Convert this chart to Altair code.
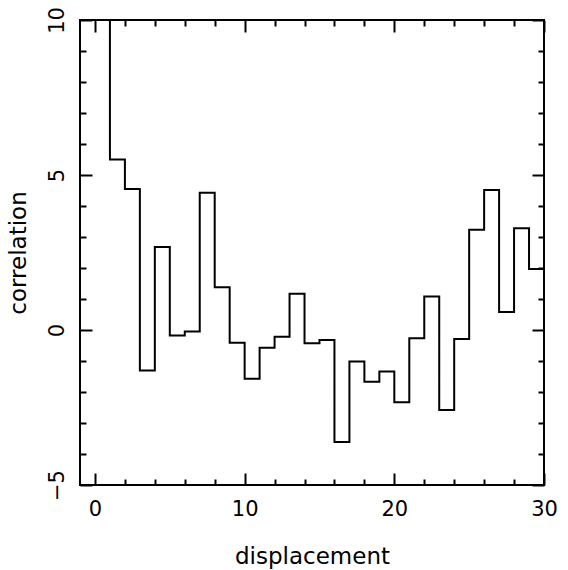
import altair as alt
import pandas as pd

# bin edges 0..30, one correlation value per unit bin (first bin is off-scale)
edges = list(range(0, 31))
values = [12.0, 5.5, 4.55, -1.31, 2.68, -0.18, -0.05, 4.43, 1.38, -0.41,
          -1.57, -0.57, -0.22, 1.17, -0.43, -0.32, -3.61, -1.02, -1.67, -1.34,
          -2.33, -0.27, 1.08, -2.58, -0.29, 3.23, 4.52, 0.58, 3.28, 1.97]

x_labels = [0, 10, 20, 30]
y_labels = [-5, 0, 5, 10]
x_ticks = list(range(0, 31, 2))
y_ticks = list(range(-5, 11, 1))

df = pd.DataFrame({"x": edges, "y": values + [values[-1]]})

W, H = 464, 465
FONT = "DejaVu Sans"

xscale = alt.Scale(domain=[-1, 30], nice=False, zero=False)
yscale = alt.Scale(domain=[-5, 10], nice=False, zero=False)

xtick_size = {"condition": {"test": "datum.value % 10 === 0", "value": 12}, "value": 6}
ytick_size = {"condition": {"test": "datum.value % 5 === 0", "value": 12}, "value": 6}

base = alt.Chart(df)

main = base.mark_line(interpolate="step-after", clip=True, color="black", strokeWidth=2).encode(
    x=alt.X("x:Q", scale=xscale, axis=alt.Axis(
        orient="bottom", values=x_labels, ticks=False, tickSize=0, domain=False, grid=False,
        labelFontSize=21, labelFont=FONT, labelPadding=13, labelFlush=False,
        labelOverlap=False, labelColor="black",
        title="displacement", titleFont=FONT, titleFontSize=23, titleFontWeight="normal",
        titlePadding=26, titleColor="black")),
    y=alt.Y("y:Q", scale=yscale, axis=alt.Axis(
        orient="left", values=y_labels, ticks=False, tickSize=0, domain=False, grid=False,
        labelFontSize=21, labelFont=FONT, labelAngle=-90, labelAlign="center",
        labelBaseline="alphabetic", labelPadding=17, labelFlush=False,
        labelOverlap=False, labelColor="black",
        title="correlation", titleFont=FONT, titleFontSize=23, titleFontWeight="normal",
        titlePadding=16, titleColor="black")),
)

# inward ticks on bottom and left edges
ticks_a = base.mark_line(opacity=0).encode(
    x=alt.X("x:Q", scale=xscale, axis=alt.Axis(
        orient="top", offset=-H, values=x_ticks, tickSize=xtick_size, tickWidth=2,
        tickColor="black", labels=False, domain=False, grid=False, title=None)),
    y=alt.Y("y:Q", scale=yscale, axis=alt.Axis(
        orient="right", offset=-W, values=y_ticks, tickSize=ytick_size, tickWidth=2,
        tickColor="black", labels=False, domain=False, grid=False, title=None)),
)

# inward ticks on top and right edges
ticks_b = base.mark_line(opacity=0).encode(
    x=alt.X("x:Q", scale=xscale, axis=alt.Axis(
        orient="bottom", offset=-H, values=x_ticks, tickSize=xtick_size, tickWidth=2,
        tickColor="black", labels=False, domain=False, grid=False, title=None)),
    y=alt.Y("y:Q", scale=yscale, axis=alt.Axis(
        orient="left", offset=-W, values=y_ticks, tickSize=ytick_size, tickWidth=2,
        tickColor="black", labels=False, domain=False, grid=False, title=None)),
)

chart = alt.layer(main, ticks_a, ticks_b).resolve_axis(
    x="independent", y="independent"
).properties(
    width=W, height=H,
    autosize=alt.AutoSizeParams(type="none"),
    padding={"left": 80, "top": 20, "right": 24, "bottom": 85},
    background="white",
).configure_view(stroke="black", strokeWidth=2)

chart.save("out.html", embed_options={"renderer": "svg", "actions": False})
